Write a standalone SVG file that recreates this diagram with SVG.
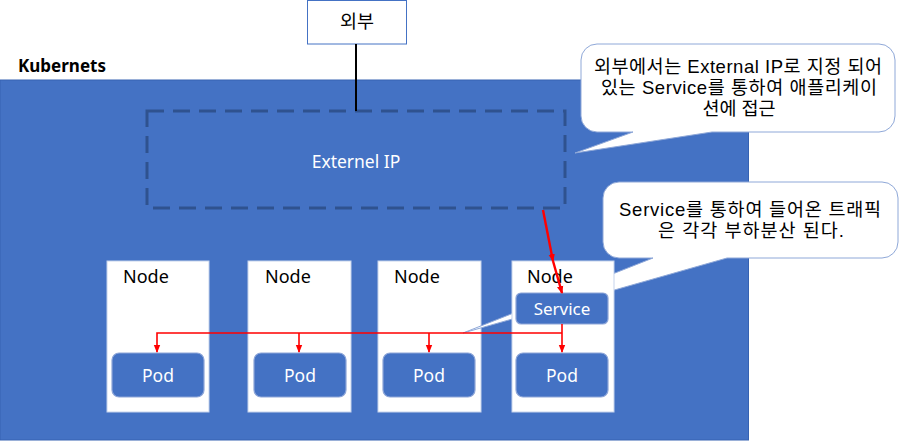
<svg xmlns="http://www.w3.org/2000/svg" width="900" height="441" viewBox="0 0 900 441">
<style>
text{font-family:"Noto Sans","Noto Sans CJK KR",sans-serif;}
.blk{fill:#000;font-size:18px;}
.wht{fill:#fff;font-size:17.5px;}
.ko{font-family:"Liberation Sans","Noto Sans CJK KR",sans-serif;font-size:18.5px;fill:#000;}
.node{fill:#fff;stroke:#C5D3EC;stroke-width:1;}
.pod{fill:#4472C4;stroke:#8EA6D8;stroke-width:1.2;}
.callout{fill:#fff;stroke:#8FA8D8;stroke-width:1;}
.red{fill:none;stroke:#FF0000;stroke-width:1.6;}
.redthick{fill:none;stroke:#FF0000;stroke-width:2.4;}
</style>
<defs>
<marker id="ah" markerUnits="userSpaceOnUse" markerWidth="8" markerHeight="8" viewBox="0 0 8 8" refX="7" refY="4" orient="auto">
<path d="M0,0.8 L8,4 L0,7.2 Z" fill="#FF0000"/>
</marker>
</defs>
<g id="kubernetes">
<rect x="0" y="80" width="748.5" height="360" fill="#4472C4" stroke="#3662B2" stroke-width="1"/>
<text x="18" y="72" style="font-size:17px;font-weight:bold;fill:#000;">Kubernets</text>
</g>
<g id="external-ip">
<rect x="147" y="111" width="418" height="97" fill="none" stroke="#2F528F" stroke-width="3" stroke-dasharray="17,9"/>
<text x="356" y="168" class="wht" text-anchor="middle">Externel IP</text>
</g>
<g id="outside">
<rect x="307.5" y="0.5" width="99" height="43.5" fill="#fff" stroke="#4472C4" stroke-width="1"/>
<text x="357" y="28" class="ko" text-anchor="middle">외부</text>
</g>
<g id="callout-1">
<path class="callout" d="M597,44 H879 A16,16 0 0 1 895,60 V116 A16,16 0 0 1 879,132 H712 L575,153 L633,132 H597 A16,16 0 0 1 581,116 V60 A16,16 0 0 1 597,44 Z"/>
<text class="ko" text-anchor="middle" x="738" y="73" textLength="288">외부에서는 External IP로 지정 되어</text>
<text class="ko" text-anchor="middle" x="739" y="94" textLength="276">있는 Service를 통하여 애플리케이</text>
<text class="ko" text-anchor="middle" x="739" y="115">션에 접근</text>
</g>
<g id="node-1">
<rect class="node" x="107" y="261" width="102" height="151"/>
<text class="blk" x="123" y="283">Node</text>
</g>
<g id="node-2">
<rect class="node" x="248" y="261" width="103" height="151"/>
<text class="blk" x="265" y="283">Node</text>
</g>
<g id="node-3">
<rect class="node" x="378" y="261" width="103" height="151"/>
<text class="blk" x="394" y="283">Node</text>
</g>
<g id="callout-2">
<path class="callout" d="M619,182 H882 A16,16 0 0 1 898,198 V242 A16,16 0 0 1 882,258 H727 L463,333 L653,258 H619 A16,16 0 0 1 603,242 V198 A16,16 0 0 1 619,182 Z"/>
<text class="ko" text-anchor="middle" x="750" y="216" textLength="262">Service를 통하여 들어온 트래픽</text>
<text class="ko" text-anchor="middle" x="751" y="237" textLength="186">은 각각 부하분산 된다.</text>
</g>
<g id="node-4">
<rect class="node" x="512" y="261" width="102" height="151"/>
<text class="blk" x="527" y="283">Node</text>
</g>
<g id="service">
<rect class="pod" x="516" y="293" width="92" height="31" rx="5"/>
<text class="wht" x="562" y="315" text-anchor="middle" style="font-size:17px;">Service</text>
</g>
<g id="pod-1">
<rect class="pod" x="112" y="353" width="92" height="44" rx="7"/>
<text class="wht" x="158" y="382" text-anchor="middle">Pod</text>
</g>
<g id="pod-2">
<rect class="pod" x="254" y="353" width="92" height="44" rx="7"/>
<text class="wht" x="300" y="382" text-anchor="middle">Pod</text>
</g>
<g id="pod-3">
<rect class="pod" x="383" y="353" width="92" height="44" rx="7"/>
<text class="wht" x="429" y="382" text-anchor="middle">Pod</text>
</g>
<g id="pod-4">
<rect class="pod" x="516" y="353" width="92" height="44" rx="7"/>
<text class="wht" x="562" y="382" text-anchor="middle">Pod</text>
</g>
<g id="connectors">
<line x1="356" y1="44" x2="356" y2="111" stroke="#000" stroke-width="2"/>
<path class="redthick" d="M543,210 L553,261" marker-end="url(#ah)"/>
<path class="redthick" d="M553,261 L562,293" marker-end="url(#ah)"/>
<path class="red" d="M562,324 V352" marker-end="url(#ah)"/>
<path class="red" d="M562,333 H157 V352" marker-end="url(#ah)"/>
<path class="red" d="M299,333 V352" marker-end="url(#ah)"/>
<path class="red" d="M429,333 V352" marker-end="url(#ah)"/>
</g>
</svg>
